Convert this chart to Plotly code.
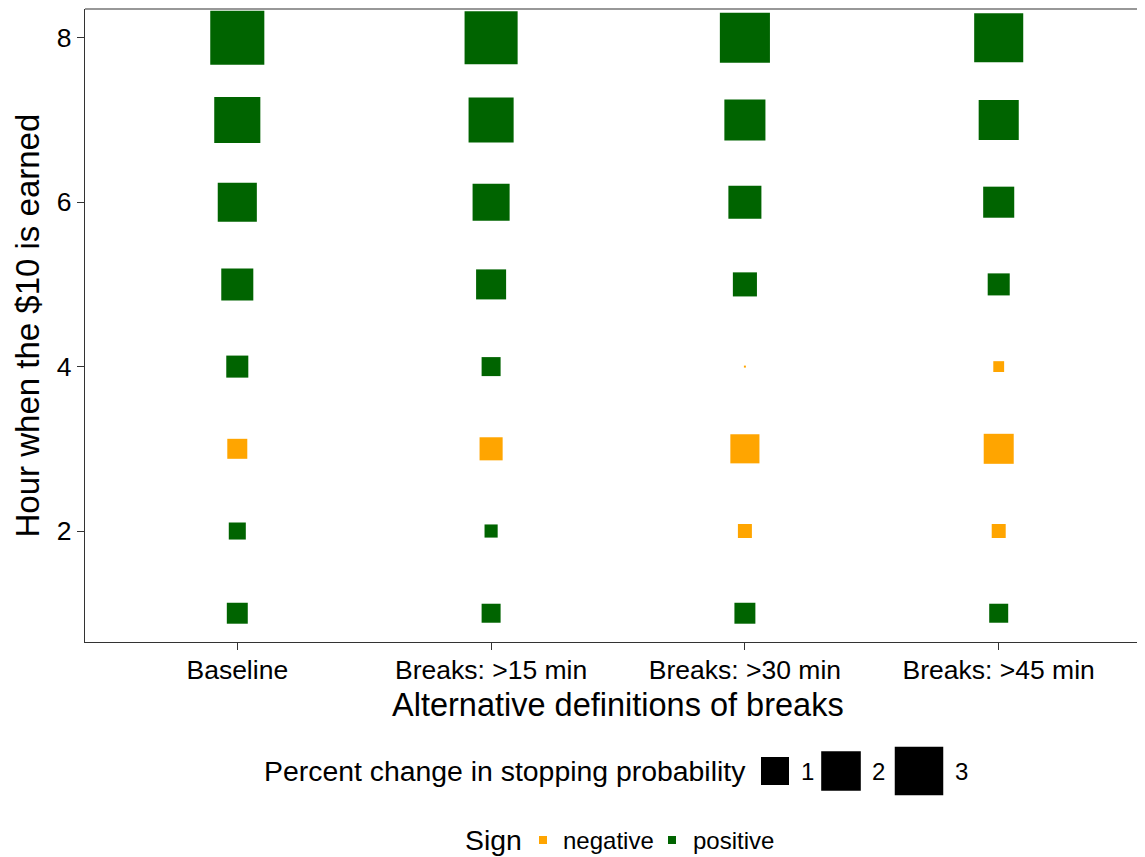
import numpy as np
import plotly.graph_objects as go

# ---------------- data ----------------
definitions = ["Baseline", "Breaks: >15 min", "Breaks: >30 min", "Breaks: >45 min"]
hours = [1, 2, 3, 4, 5, 6, 7, 8]
baseline = [0.56, 0.37, -0.51, 0.62, 1.31, 1.95, 2.71, 3.73]
breaks_15 = [0.46, 0.22, -0.68, 0.46, 1.15, 1.75, 2.59, 3.59]
breaks_30 = [0.56, -0.25, -1.08, -0.005, 0.74, 1.39, 2.15, 3.20]
breaks_45 = [0.46, -0.25, -1.15, -0.15, 0.62, 1.23, 2.05, 3.07]
size_legend_values = [1, 2, 3]
sign_labels = ["negative", "positive"]
y_ticks = [2, 4, 6, 8]

# ---------------- styles ----------------
VW, VH = 1145, 857          # browser window
OFF = 8                     # default page body margin
W, H = VW, VH
FONT = "Liberation Sans, Arial, Helvetica, sans-serif"
COLORS = {"negative": "#FFA500", "positive": "#006400"}
SIZE_K = 28.0  # px per sqrt(unit): square side = K * sqrt(|value|)
LINE_COL = "#333333"


def side(v):
    return SIZE_K * np.sqrt(np.abs(np.asarray(v, dtype=float)))


series = [baseline, breaks_15, breaks_30, breaks_45]
xs, ys, vals = [], [], []
for d, s in zip(definitions, series):
    for h, v in zip(hours, s):
        xs.append(d)
        ys.append(h)
        vals.append(v)
vals = np.array(vals)
signs = np.where(vals < 0, "negative", "positive")

fig = go.Figure()
for sg in sign_labels:
    m = signs == sg
    fig.add_trace(go.Scatter(
        x=[x for x, k in zip(xs, m) if k],
        y=[y for y, k in zip(ys, m) if k],
        mode="markers",
        marker=dict(symbol="square", size=side(vals[m]), color=COLORS[sg],
                    opacity=1, line=dict(width=0)),
        showlegend=False, hoverinfo="skip",
        xaxis="x", yaxis="y",
    ))

# panel geometry (screen pixels); ggplot panel runs past the window's right edge
PL, PR, PT, PB = 85, 1151, 9, 642
x_range = [-0.6, 3.6]

# ---------------- manual legends (pixel overlay axis) ----------------
key_centers_x = [775, 841, 919]
legend_row1_y = 771
legend_row2_y = 840
fig.add_trace(go.Scatter(
    x=key_centers_x, y=[legend_row1_y] * 3, mode="markers",
    marker=dict(symbol="square", size=side(size_legend_values), color="#000000",
                opacity=1, line=dict(width=0)),
    showlegend=False, hoverinfo="skip", xaxis="x2", yaxis="y2"))
sign_key_x = [543, 672]
fig.add_trace(go.Scatter(
    x=sign_key_x, y=[legend_row2_y] * 2, mode="markers",
    marker=dict(symbol="square", size=8, color=[COLORS[s] for s in sign_labels],
                opacity=1, line=dict(width=0)),
    showlegend=False, hoverinfo="skip", xaxis="x2", yaxis="y2"))

annotations = [
    dict(text="Alternative definitions of breaks", x=618, y=705, xanchor="center",
         yanchor="middle", font=dict(size=32.5)),
    dict(text="Hour when the $10 is earned", x=27, y=(PT + PB) / 2, xanchor="center",
         yanchor="middle", textangle=-90, font=dict(size=33)),
    dict(text="Percent change in stopping probability", x=748, y=legend_row1_y,
         xanchor="right", yanchor="middle", font=dict(size=28.4)),
    dict(text="Sign", x=463, y=legend_row2_y, xanchor="left", yanchor="middle",
         font=dict(size=28.4)),
]
for lab_x, v in zip([799, 870, 953], size_legend_values):
    annotations.append(dict(text=str(v), x=lab_x, y=legend_row1_y, xanchor="left",
                            yanchor="middle", font=dict(size=24)))
for lab_x, s in zip([561, 691], sign_labels):
    annotations.append(dict(text=s, x=lab_x, y=legend_row2_y, xanchor="left",
                            yanchor="middle", font=dict(size=24)))
for a in annotations:
    a.update(xref="x2", yref="y2", showarrow=False)
    a["font"].update(family=FONT, color="black")

# top panel border (ggplot panel.border), drawn as a shape in pixel coords
shapes = [dict(type="line", xref="x2", yref="y2", x0=PL, x1=PR + 10, y0=PT, y1=PT,
               line=dict(color=LINE_COL, width=1.2), layer="above")]

fig.update_layout(
    width=W, height=H,
    margin=dict(l=0, r=0, t=0, b=0, autoexpand=False),
    paper_bgcolor="white", plot_bgcolor="rgba(0,0,0,0)",
    font=dict(family=FONT, color="black"),
    showlegend=False,
    xaxis=dict(
        domain=[(PL - OFF) / W, (PR - OFF) / W], anchor="y",
        type="category", categoryorder="array", categoryarray=definitions,
        range=x_range, showgrid=False, zeroline=False,
        showline=True, linecolor=LINE_COL, linewidth=1.2, mirror=False,
        ticks="outside", ticklen=7, tickcolor=LINE_COL, tickwidth=1.2,
        tickfont=dict(size=26.5, family=FONT, color="black"),
        ticklabelstandoff=-3,
        automargin=False,
    ),
    yaxis=dict(
        domain=[1 - (PB - OFF) / H, 1 - (PT - OFF) / H], anchor="x",
        range=[0.65, 8.35], tickvals=y_ticks, showgrid=False, zeroline=False,
        showline=True, linecolor=LINE_COL, linewidth=1.2, mirror=False,
        ticks="outside", ticklen=7, tickcolor=LINE_COL, tickwidth=1.2,
        tickfont=dict(size=26.5, family=FONT, color="black"),
        automargin=False,
    ),
    xaxis2=dict(domain=[0, 1], anchor="y2", range=[OFF, W + OFF], visible=False,
                fixedrange=True),
    yaxis2=dict(domain=[0, 1], anchor="x2", range=[H + OFF, OFF], visible=False,
                fixedrange=True),
    annotations=annotations,
    shapes=shapes,
)

fig.write_html("out.html")
